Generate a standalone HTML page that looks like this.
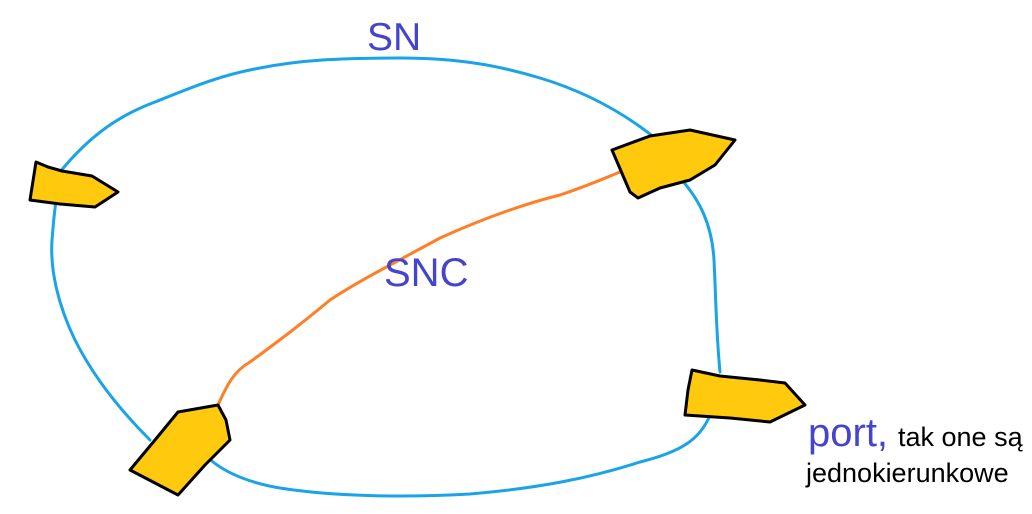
<!DOCTYPE html>
<html><head><meta charset="utf-8"><style>
html,body{margin:0;padding:0;background:#fff;width:1032px;height:514px;overflow:hidden}
svg{display:block}
text{font-family:"Liberation Sans","DejaVu Sans",sans-serif}
</style></head><body>
<svg width="1032" height="514" viewBox="0 0 1032 514">
<path fill="none" stroke="#1aa3e6" stroke-width="3" stroke-linecap="round"
 d="M60,172 C90,135 120,115 155,102 C190,88 220,75 260,68 C300,60 340,58 400,58 C460,58 500,66 540,78 C580,90 620,110 655,138"/>
<path fill="none" stroke="#1aa3e6" stroke-width="3" stroke-linecap="round"
 d="M680,178 C700,200 712,225 714,260 C716,300 716,330 720,372"/>
<path fill="none" stroke="#1aa3e6" stroke-width="3" stroke-linecap="round"
 d="M710,415 C700,440 680,452 640,462 C590,478 540,488 470,494 C400,498 330,496 280,488 C245,482 220,470 205,455"/>
<path fill="none" stroke="#1aa3e6" stroke-width="3" stroke-linecap="round"
 d="M150,440 C125,415 95,380 75,340 C58,305 50,270 52,240 C54,215 56,200 57,195"/>
<path fill="none" stroke="#ff7f27" stroke-width="3" stroke-linecap="round"
 d="M218,405 C225,390 232,372 250,362 C280,340 300,325 330,300 C360,280 400,260 440,238 C480,220 520,205 560,195 C590,185 605,178 620,172"/>
<g fill="#ffc90e" stroke="#000" stroke-width="3" stroke-linejoin="round">
<path d="M36,162 L48,167 L62,171 L92,176 L118,192 L95,207 L60,204 L30,200 Z"/>
<path d="M612,150 L650,136 L690,130 L735,140 L715,165 L690,180 L660,188 L638,198 L630,192 Z"/>
<path d="M130,470 L155,440 L178,412 L218,405 L226,420 L230,440 L205,465 L178,495 Z"/>
<path d="M692,370 L720,376 L760,380 L785,383 L805,405 L770,422 L730,418 L685,415 L688,390 Z"/>
</g>
<text x="367" y="50" font-size="39" fill="#4444cc">SN</text>
<text x="384" y="286" font-size="40" fill="#4444cc">SNC</text>
<text x="808" y="446" font-size="40" fill="#4444cc">port,</text>
<text x="898" y="446" font-size="27" fill="#000">tak one są</text>
<text x="806" y="482" font-size="27" fill="#000">jednokierunkowe</text>
</svg>
</body></html>
